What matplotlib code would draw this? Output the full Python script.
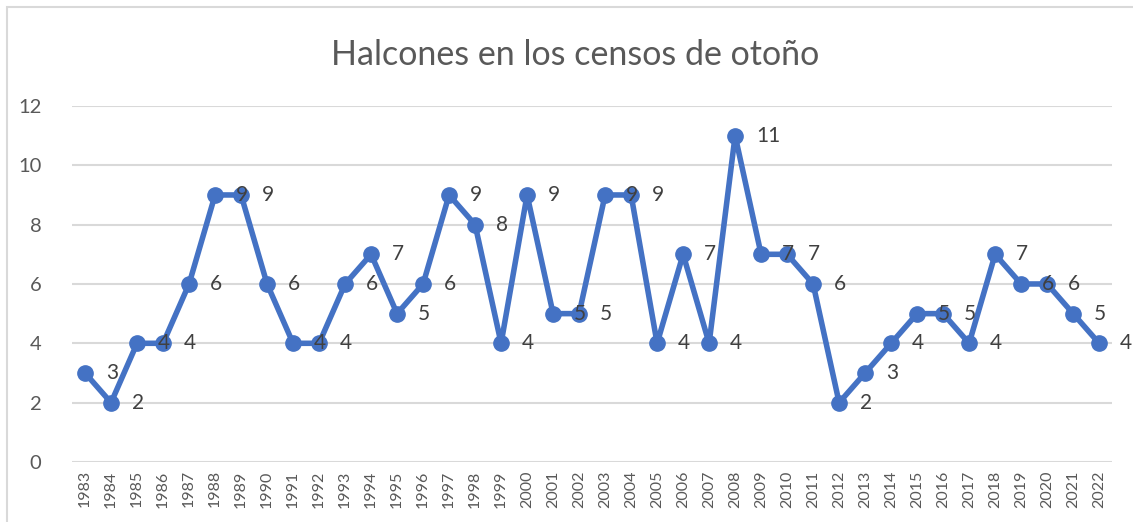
import numpy as np
import matplotlib
matplotlib.use("Agg")
import matplotlib.pyplot as plt
from matplotlib.patches import Rectangle

# Data
years = [str(y) for y in range(1983, 2023)]
halcones = [3, 2, 4, 4, 6, 9, 9, 6, 4, 4,
            6, 7, 5, 6, 9, 8, 4, 9, 5, 5,
            9, 9, 4, 7, 4, 11, 7, 7, 6, 2,
            3, 4, 5, 5, 4, 7, 6, 6, 5, 4]
y_ticks = [0, 2, 4, 6, 8, 10, 12]
title = "Halcones en los censos de otoño"

plt.rcParams['font.family'] = ['Lato', 'DejaVu Sans']

fig = plt.figure(figsize=(11.33, 5.22), dpi=100)
ax = fig.add_axes([0.0636, 0.115, 0.918, 0.682])

x = np.arange(len(years))
ax.plot(x, halcones, color="#4472C4", linewidth=4, marker="o",
        markersize=11, solid_joinstyle="round", zorder=3, clip_on=False)

# data labels to the right of each point
for xi, v in zip(x, halcones):
    ax.annotate(str(v), (xi, v), xytext=(21, 0), textcoords="offset pixels",
                ha="left", va="center", fontsize=15, color="#404040", zorder=4)

ax.set_xlim(-0.5, len(years) - 0.5)
ax.set_ylim(0, 12)
ax.set_yticks(y_ticks)
ax.set_xticks(x)
ax.set_xticklabels(years, rotation=90, fontsize=11.5, color="#595959")
ax.tick_params(axis="y", labelsize=14.5, labelcolor="#595959", length=0, pad=22)
ax.tick_params(axis="x", length=0, pad=6)
ax.grid(axis="y", color="#D9D9D9", linewidth=1.5)
ax.set_axisbelow(True)
for s in ax.spines.values():
    s.set_visible(False)

fig.text(0.508, 0.895, title, ha="center", va="center", fontsize=24.5, color="#595959")

# chart area border
fig.patches.append(Rectangle((7 / 1133, -0.1), 1.2, 0.1 + (522 - 7) / 522,
                             transform=fig.transFigure, fill=False,
                             edgecolor="#D9D9D9", linewidth=1.5))

fig.savefig("out.png", dpi=100)
